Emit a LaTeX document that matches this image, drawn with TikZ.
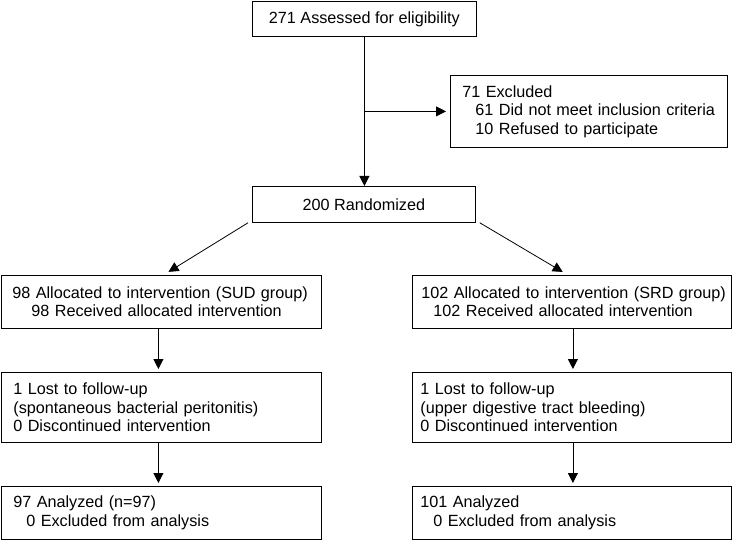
\documentclass[tikz,border=0pt]{standalone}
\usepackage{fontspec}
\setmainfont{Liberation Sans}
\usetikzlibrary{arrows.meta}
\begin{document}
\begin{tikzpicture}[x=1pt,y=-1pt,
        box/.style={draw,line width=0.8pt,anchor=north west,inner ysep=0pt,align=left,font=\fontsize{16.2}{18.5}\selectfont},
        arr/.style={-{Triangle[width=10pt,length=10pt]},line width=0.8pt}]
        \useasboundingbox (0,0) rectangle (733,540);
        \node[box,align=center,inner xsep=0pt,minimum width=224pt,minimum height=35pt] (assess) at (252,1) {271 Assessed for eligibility};
        \node[box,inner xsep=12pt,text width=253pt,minimum height=72pt] (excl) at (450,75) {71 Excluded\\\mbox{\hspace*{13pt}61 Did not meet inclusion criteria}\\\hspace*{13pt}10 Refused to participate};
        \node[box,align=center,inner xsep=0pt,minimum width=223pt,minimum height=36pt] (rand) at (252,186) {200 Randomized};
        \node[box,inner xsep=11pt,text width=298pt,minimum height=53pt] (allocL) at (1,275) {\mbox{98 Allocated to intervention (SUD group)}\\\hspace*{19pt}98 Received allocated intervention};
        \node[box,inner xsep=8pt,text width=303pt,minimum height=53pt] (allocR) at (412,275) {\mbox{\hspace*{1pt}102 Allocated to intervention (SRD group)}\\\hspace*{13pt}102 Received allocated intervention};
        \node[box,inner xsep=12pt,text width=296pt,minimum height=70pt] (lostL) at (1,372) {1 Lost to follow-up\\\mbox{(spontaneous bacterial peritonitis)}\\0 Discontinued intervention};
        \node[box,inner xsep=8pt,text width=303pt,minimum height=70pt] (lostR) at (412,372) {1 Lost to follow-up\\(upper digestive tract bleeding)\\0 Discontinued intervention};
        \node[box,inner xsep=12pt,text width=296pt,minimum height=53pt] (anaL) at (1,486) {97 Analyzed (n=97)\\\hspace*{13pt}0 Excluded from analysis};
        \node[box,inner xsep=8pt,text width=303pt,minimum height=53pt] (anaR) at (412,486) {101 Analyzed\\\hspace*{13pt}0 Excluded from analysis};
        \draw[arr] (assess.south) -- (assess.south |- rand.north);
        \draw[arr,shorten >=4pt] (assess.south |- excl.west) -- (excl.west);
        \draw[arr,shorten >=6pt] ([xshift=-4pt]rand.south west) -- ([xshift=2pt]allocL.north);
        \draw[arr,shorten >=6pt] ([xshift=4pt]rand.south east) -- ([xshift=-4pt]allocR.north);
        \draw[arr,shorten >=3pt] ([xshift=-3pt]allocL.south) -- ([xshift=-3pt]lostL.north);
        \draw[arr,shorten >=3pt] ([xshift=-3pt]lostL.south) -- ([xshift=-3pt]anaL.north);
        \draw[arr,shorten >=3pt] ([xshift=1pt]allocR.south) -- ([xshift=1pt]lostR.north);
        \draw[arr,shorten >=3pt] ([xshift=1pt]lostR.south) -- ([xshift=1pt]anaR.north);
    \end{tikzpicture}
\end{document}
